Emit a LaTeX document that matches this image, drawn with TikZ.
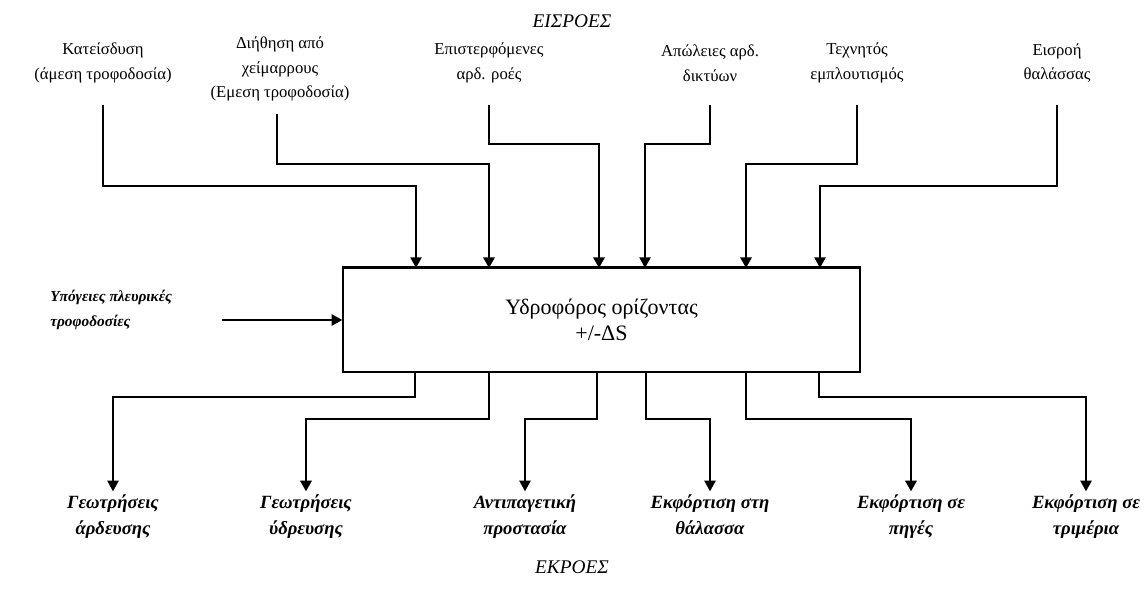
\documentclass[tikz,border=0pt]{standalone}
\usepackage{fontspec}
\setmainfont{Liberation Serif}
\usetikzlibrary{arrows.meta}
\begin{document}
\begin{tikzpicture}[x=0.75pt,y=-0.75pt,
  thinline/.style={line width=1pt},
  thickline/.style={line width=1.7pt},
  arr/.style={-{Triangle[width=8.5pt,length=8pt]}},
  inlabel/.style={align=center,font=\fontsize{12.5}{18.5}\selectfont,inner sep=0pt},
  outlabel/.style={align=center,font=\fontsize{14}{19.5}\selectfont\bfseries\itshape,inner sep=0pt},
  title/.style={font=\fontsize{14.5}{17}\selectfont\itshape,inner sep=0pt}]
\useasboundingbox (0,0) rectangle (1145,592);
% titles
\node[title] (tin) at (572,21) {ΕΙΣΡΟΕΣ};
\node[title] (tout) at (572,567) {ΕΚΡΟΕΣ};
% central box
\node[draw,thinline,minimum width=387.75pt,minimum height=78pt,align=center,
      font=\fontsize{16.5}{19.5}\selectfont] (box) at (601.5,320)
      {Υδροφόρος ορίζοντας\\+/-ΔS};
\draw[thickline] (box.north west) -- (box.north east);
% input labels
\node[inlabel] (kat) at (103,63) {Κατείσδυση\\(άμεση τροφοδοσία)};
\node[inlabel] (dii) at (280,69) {Διήθηση από\\χείμαρρους\\(Εμεση τροφοδοσία)};
\node[inlabel] (epi) at (489,63) {Επιστερφόμενες\\αρδ. ροές};
\node[inlabel] (apo) at (710,63) {Απώλειες αρδ.\\δικτύων};
\node[inlabel] (tex) at (857,63) {Τεχνητός\\εμπλουτισμός};
\node[inlabel] (eis) at (1057,63) {Εισροή\\θαλάσσας};
% line start coordinates
\coordinate (kat-s) at (103,105);
\coordinate (dii-s) at (277,114);
\coordinate (epi-s) at (489,105);
\coordinate (apo-s) at (710,105);
\coordinate (tex-s) at (857,105);
\coordinate (eis-s) at (1057,105);
% arrow end coordinates on box top
\coordinate (i1) at (416,268);
\coordinate (i2) at (489,268);
\coordinate (i3) at (599,268);
\coordinate (i4) at (645,268);
\coordinate (i5) at (746,268);
\coordinate (i6) at (820,268);
\draw[thinline,arr] (kat-s) -- (kat-s |- 0,186) -| (i1);
\draw[thickline,arr] (dii-s) -- (dii-s |- 0,164) -| (i2);
\draw[thickline,arr] (epi-s) -- (epi-s |- 0,144) -| (i3);
\draw[thinline,arr] (apo-s) -- (apo-s |- 0,144) -| (i4);
\draw[thickline,arr] (tex-s) -- (tex-s |- 0,164) -| (i5);
\draw[thinline,arr] (eis-s) -- (eis-s |- 0,186) -| (i6);
% lateral input
\node[align=left,anchor=west,inner sep=0pt,font=\fontsize{11.5}{19}\selectfont\bfseries\itshape] (lat) at (50,310) {Υπόγειες πλευρικές\\τροφοδοσίες};
\coordinate (lat-s) at (222,320);
\draw[thinline,arr] (lat-s) -- (box.west |- lat-s);
% output labels
\node[outlabel,anchor=north] (g1) at (113,494) {Γεωτρήσεις\\άρδευσης};
\node[outlabel,anchor=north] (g2) at (306,494) {Γεωτρήσεις\\ύδρευσης};
\node[outlabel,anchor=north] (g3) at (525,494) {Αντιπαγετική\\προστασία};
\node[outlabel,anchor=north] (g4) at (710,494) {Εκφόρτιση στη\\θάλασσα};
\node[outlabel,anchor=north] (g5) at (911,494) {Εκφόρτιση σε\\πηγές};
\node[outlabel,anchor=north] (g6) at (1086,494) {Εκφόρτιση σε\\τριμέρια};
% output start coordinates on box bottom
\coordinate (o1) at (415,372);
\coordinate (o2) at (489,372);
\coordinate (o3) at (597,372);
\coordinate (o4) at (646,372);
\coordinate (o5) at (746,372);
\coordinate (o6) at (819,372);
\draw[thinline,arr] (o1) -- (o1 |- 0,397) -| ([yshift=2pt]g1.north);
\draw[thickline,arr] (o2) -- (o2 |- 0,419) -| ([yshift=2pt]g2.north);
\draw[thinline,arr] (o3) -- (o3 |- 0,419) -| ([yshift=2pt]g3.north);
\draw[thinline,arr] (o4) -- (o4 |- 0,419) -| ([yshift=2pt]g4.north);
\draw[thickline,arr] (o5) -- (o5 |- 0,419) -| ([yshift=2pt]g5.north);
\draw[thinline,arr] (o6) -- (o6 |- 0,397) -| ([yshift=2pt]g6.north);
\end{tikzpicture}
\end{document}
